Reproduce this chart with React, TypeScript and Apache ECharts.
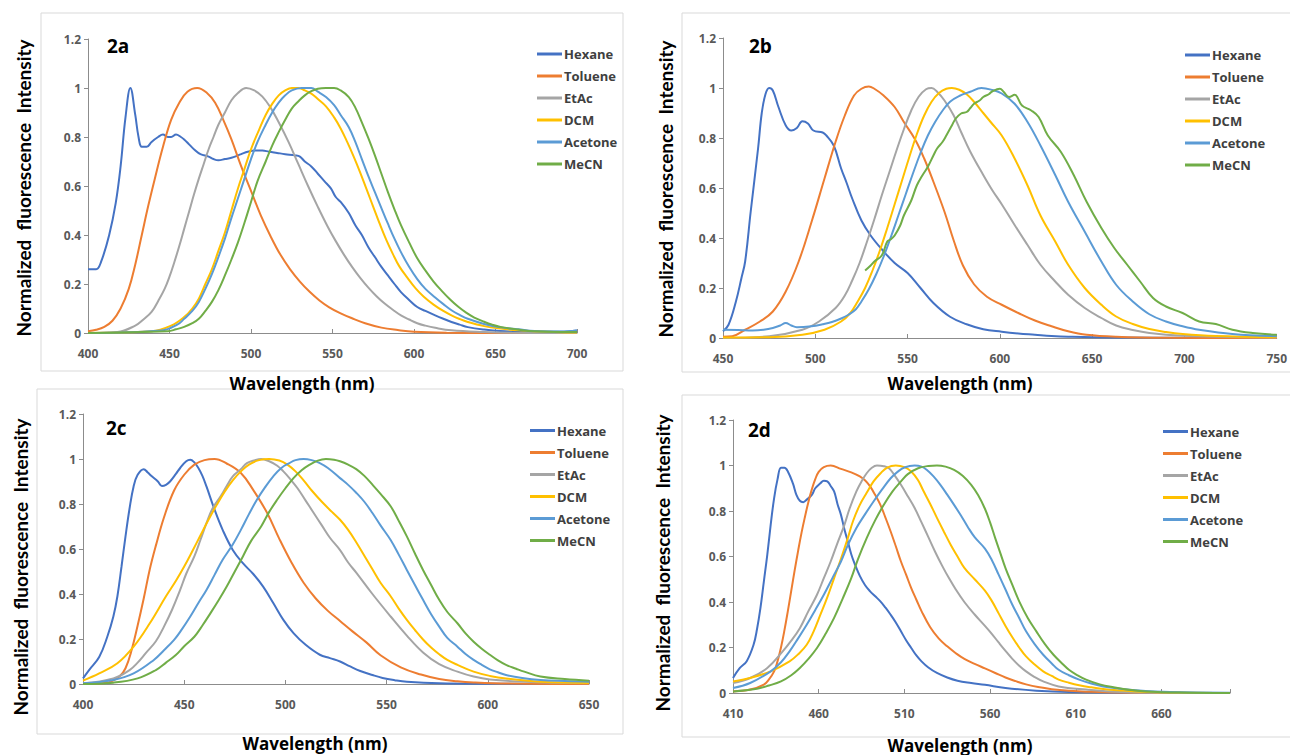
import React, { useEffect, useRef } from "react";
import * as echarts from "echarts";

type Pt = [number, number];

const NAMES = ["Hexane", "Toluene", "EtAc", "DCM", "Acetone", "MeCN"];
const COLORS = ["#4472C4", "#ED7D31", "#A5A5A5", "#FFC000", "#5B9BD5", "#70AD47"];
const Y_TICKS = [0, 0.2, 0.4, 0.6, 0.8, 1, 1.2];

// ---------- Panel 2a ----------
const a_hexane: Pt[] = [[400,0.26],[405,0.26],[408,0.29],[413,0.40],[417,0.53],[420,0.68],[423,0.88],[426,1.0],[429,0.89],[431,0.80],[433,0.76],[436,0.76],[439,0.78],[443,0.80],[446,0.81],[449,0.80],[451,0.80],[454,0.81],[457,0.80],[459,0.79],[462,0.77],[465,0.75],[469,0.73],[474,0.72],[477,0.71],[480,0.705],[484,0.71],[488,0.715],[494,0.73],[498,0.74],[503,0.745],[507,0.745],[511,0.74],[516,0.735],[521,0.73],[527,0.725],[530,0.72],[533,0.70],[537,0.68],[541,0.65],[545,0.62],[549,0.59],[552,0.555],[555,0.535],[560,0.49],[564,0.44],[568,0.40],[572,0.35],[576,0.31],[580,0.27],[584,0.235],[588,0.20],[592,0.167],[597,0.135],[602,0.106],[607,0.09],[613,0.072],[618,0.058],[623,0.045],[628,0.034],[633,0.024],[643,0.014],[653,0.008],[670,0.005],[690,0.005],[700,0.01]];
const a_toluene: Pt[] = [[400,0.007],[405,0.013],[410,0.025],[415,0.05],[420,0.1],[425,0.18],[429,0.28],[433,0.4],[437,0.52],[441,0.63],[446,0.76],[451,0.87],[456,0.94],[461,0.985],[467,1.0],[473,0.98],[478,0.94],[483,0.87],[488,0.79],[494,0.68],[500,0.58],[506,0.48],[512,0.395],[518,0.32],[524,0.26],[530,0.21],[536,0.168],[542,0.133],[548,0.105],[555,0.08],[562,0.06],[570,0.04],[580,0.022],[590,0.012],[600,0.005],[620,0.001],[650,0],[700,0]];
const a_etac: Pt[] = [[400,0],[418,0.004],[429,0.03],[434,0.055],[439,0.086],[443,0.13],[447,0.18],[450,0.23],[453,0.29],[456,0.355],[459,0.425],[462,0.495],[465,0.565],[468,0.63],[471,0.69],[474,0.75],[477,0.8],[480,0.85],[484,0.9],[488,0.95],[492,0.98],[497,1.0],[502,0.99],[507,0.965],[512,0.92],[517,0.86],[523,0.78],[529,0.69],[535,0.6],[541,0.515],[547,0.435],[552,0.375],[557,0.32],[562,0.27],[567,0.225],[572,0.185],[577,0.15],[582,0.12],[587,0.095],[592,0.072],[597,0.055],[602,0.04],[607,0.03],[613,0.021],[623,0.011],[643,0.004],[660,0.001],[700,0]];
const a_dcm: Pt[] = [[400,0],[439,0.007],[451,0.03],[459,0.065],[464,0.1],[468,0.14],[472,0.2],[476,0.26],[480,0.335],[484,0.41],[488,0.5],[492,0.59],[496,0.67],[500,0.75],[505,0.83],[509,0.89],[513,0.935],[517,0.97],[521,0.99],[525,1.0],[529,1.0],[533,0.99],[537,0.977],[541,0.955],[546,0.925],[551,0.88],[555,0.835],[559,0.78],[563,0.72],[567,0.655],[571,0.585],[575,0.515],[579,0.445],[583,0.38],[587,0.323],[591,0.272],[596,0.225],[601,0.182],[606,0.148],[612,0.116],[618,0.09],[623,0.072],[628,0.057],[633,0.045],[643,0.028],[653,0.018],[664,0.011],[674,0.007],[690,0.003],[700,0.002]];
const a_acetone: Pt[] = [[400,0],[445,0.01],[455,0.035],[459,0.058],[464,0.09],[468,0.127],[472,0.18],[476,0.24],[480,0.31],[484,0.385],[488,0.47],[492,0.55],[496,0.63],[500,0.71],[504,0.78],[509,0.85],[513,0.9],[517,0.94],[521,0.97],[525,0.99],[531,1.0],[537,1.0],[541,0.985],[546,0.963],[551,0.93],[555,0.89],[560,0.84],[564,0.78],[568,0.71],[572,0.64],[576,0.575],[580,0.51],[584,0.446],[588,0.385],[592,0.33],[597,0.27],[602,0.22],[607,0.18],[613,0.145],[618,0.118],[623,0.093],[628,0.074],[633,0.058],[643,0.037],[653,0.023],[664,0.015],[674,0.008],[690,0.006],[700,0.01]];
const a_mecn: Pt[] = [[400,0],[449,0.007],[454,0.015],[459,0.025],[464,0.04],[468,0.058],[472,0.09],[476,0.127],[480,0.175],[484,0.235],[488,0.3],[492,0.37],[496,0.45],[500,0.535],[504,0.62],[509,0.7],[513,0.765],[517,0.82],[521,0.87],[525,0.916],[529,0.945],[533,0.97],[537,0.987],[541,0.997],[546,1.0],[551,1.0],[555,0.99],[560,0.963],[564,0.92],[568,0.86],[572,0.795],[576,0.725],[580,0.65],[584,0.575],[588,0.505],[592,0.44],[597,0.37],[602,0.305],[607,0.255],[612,0.21],[617,0.172],[622,0.138],[627,0.108],[632,0.083],[637,0.063],[643,0.046],[648,0.034],[653,0.025],[664,0.014],[674,0.007],[690,0.004],[700,0.004]];

// ---------- Panel 2b ----------
const b_hexane: Pt[] = [[450,0.027],[453,0.053],[457,0.146],[460,0.24],[462,0.306],[465,0.505],[469,0.758],[471,0.9],[473,0.975],[475,1.0],[477,0.99],[480,0.925],[484,0.85],[487,0.83],[490,0.84],[493,0.867],[496,0.858],[499,0.83],[504,0.822],[506,0.81],[510,0.77],[514,0.678],[517,0.62],[520,0.558],[525,0.47],[530,0.41],[536,0.355],[543,0.3],[550,0.26],[557,0.2],[564,0.14],[573,0.085],[582,0.055],[591,0.035],[601,0.025],[610,0.018],[619,0.013],[628,0.008],[637,0.005],[660,0.002],[750,0.001]];
const b_toluene: Pt[] = [[450,0.005],[455,0.007],[462,0.033],[470,0.066],[477,0.106],[484,0.186],[491,0.306],[498,0.465],[505,0.638],[511,0.785],[516,0.89],[521,0.97],[525,0.997],[529,1.006],[532,0.997],[537,0.97],[543,0.924],[548,0.864],[554,0.795],[559,0.718],[564,0.625],[570,0.505],[575,0.39],[580,0.29],[586,0.215],[593,0.165],[601,0.133],[610,0.1],[619,0.07],[628,0.047],[637,0.027],[647,0.013],[663,0.005],[690,0.001],[750,0]];
const b_etac: Pt[] = [[450,0],[475,0.007],[493,0.033],[502,0.066],[511,0.12],[516,0.17],[520,0.23],[524,0.3],[528,0.385],[532,0.475],[536,0.57],[540,0.66],[544,0.75],[548,0.835],[552,0.91],[556,0.965],[560,0.995],[563,1.0],[566,0.985],[570,0.95],[575,0.89],[579,0.824],[584,0.745],[591,0.652],[596,0.59],[601,0.535],[608,0.452],[615,0.372],[622,0.293],[630,0.226],[637,0.173],[646,0.12],[655,0.08],[663,0.05],[672,0.032],[681,0.02],[699,0.009],[726,0.004],[750,0.002]];
const b_dcm: Pt[] = [[450,0.002],[475,0.003],[493,0.013],[505,0.033],[514,0.066],[519,0.1],[523,0.146],[527,0.2],[531,0.27],[535,0.35],[539,0.44],[543,0.535],[547,0.63],[551,0.725],[555,0.815],[559,0.89],[563,0.945],[567,0.98],[571,0.997],[574,1.0],[578,0.993],[582,0.975],[586,0.945],[591,0.9],[595,0.864],[601,0.81],[608,0.718],[615,0.61],[622,0.49],[630,0.386],[637,0.293],[646,0.2],[655,0.133],[663,0.086],[672,0.056],[681,0.036],[690,0.024],[699,0.016],[717,0.008],[750,0.003]];
const b_acetone: Pt[] = [[450,0.033],[458,0.032],[466,0.03],[472,0.033],[477,0.04],[481,0.05],[484,0.06],[487,0.05],[490,0.043],[498,0.047],[504,0.055],[509,0.064],[514,0.078],[518,0.093],[522,0.115],[525,0.146],[529,0.195],[533,0.255],[537,0.325],[541,0.405],[545,0.49],[549,0.575],[553,0.66],[557,0.74],[561,0.81],[565,0.865],[569,0.91],[573,0.945],[578,0.968],[584,0.985],[590,1.0],[596,0.992],[601,0.978],[608,0.937],[615,0.864],[622,0.77],[630,0.652],[637,0.545],[646,0.425],[655,0.306],[663,0.213],[672,0.146],[681,0.095],[690,0.066],[699,0.047],[708,0.033],[726,0.016],[750,0.007]];
const b_mecn: Pt[] = [[527,0.27],[530,0.29],[532,0.306],[536,0.33],[539,0.386],[541,0.395],[543,0.41],[546,0.45],[548,0.49],[552,0.55],[555,0.61],[558,0.65],[561,0.685],[564,0.73],[566,0.758],[569,0.785],[571,0.81],[574,0.85],[576,0.877],[579,0.898],[582,0.904],[584,0.92],[586,0.937],[589,0.95],[591,0.964],[594,0.975],[596,0.987],[600,0.997],[602,0.985],[605,0.964],[608,0.973],[612,0.93],[617,0.91],[621,0.884],[626,0.81],[633,0.745],[640,0.652],[647,0.545],[655,0.44],[662,0.36],[669,0.293],[676,0.226],[683,0.16],[690,0.126],[699,0.1],[708,0.066],[717,0.056],[726,0.033],[737,0.02],[750,0.013]];

// ---------- Panel 2c ----------
const c_hexane: Pt[] = [[400,0.025],[403,0.062],[408,0.12],[412,0.21],[415,0.3],[417,0.39],[419,0.52],[421,0.656],[423,0.78],[425,0.878],[427,0.93],[430,0.955],[432,0.94],[434,0.923],[437,0.9],[439,0.88],[441,0.885],[443,0.9],[446,0.935],[448,0.96],[451,0.99],[453,0.997],[455,0.985],[457,0.96],[459,0.925],[461,0.878],[465,0.775],[469,0.685],[474,0.596],[479,0.537],[484,0.49],[489,0.433],[494,0.36],[499,0.285],[504,0.226],[510,0.174],[517,0.13],[522,0.115],[527,0.1],[532,0.078],[537,0.058],[543,0.04],[548,0.027],[554,0.017],[560,0.01],[576,0.003],[600,0.001],[650,0]];
const c_toluene: Pt[] = [[400,0],[412,0.006],[418,0.033],[421,0.07],[424,0.15],[427,0.26],[430,0.38],[433,0.51],[436,0.615],[440,0.74],[445,0.86],[450,0.93],[455,0.975],[460,0.995],[465,1.0],[471,0.98],[478,0.938],[484,0.864],[491,0.76],[497,0.645],[503,0.54],[509,0.45],[515,0.38],[521,0.325],[527,0.28],[533,0.235],[540,0.185],[547,0.128],[557,0.074],[567,0.042],[576,0.022],[585,0.012],[593,0.007],[610,0.002],[650,0]];
const c_etac: Pt[] = [[400,0.003],[415,0.025],[423,0.062],[427,0.095],[431,0.137],[436,0.19],[440,0.255],[444,0.33],[448,0.418],[451,0.49],[455,0.567],[458,0.64],[461,0.715],[464,0.78],[468,0.834],[471,0.88],[474,0.923],[478,0.955],[481,0.982],[485,0.995],[488,1.0],[492,0.99],[496,0.97],[499,0.945],[502,0.915],[506,0.87],[510,0.815],[514,0.76],[518,0.705],[522,0.65],[527,0.595],[531,0.54],[535,0.495],[543,0.4],[552,0.3],[560,0.215],[568,0.14],[576,0.088],[585,0.055],[593,0.033],[601,0.02],[618,0.01],[650,0.003]];
const c_dcm: Pt[] = [[400,0.015],[408,0.047],[417,0.092],[425,0.166],[433,0.27],[441,0.39],[446,0.46],[450,0.522],[454,0.59],[458,0.66],[462,0.73],[466,0.795],[470,0.855],[474,0.905],[478,0.945],[482,0.975],[487,0.995],[492,1.0],[497,0.993],[501,0.975],[505,0.945],[509,0.905],[513,0.86],[518,0.81],[523,0.765],[527,0.73],[531,0.685],[535,0.63],[539,0.57],[543,0.51],[547,0.45],[552,0.39],[556,0.335],[560,0.285],[564,0.24],[568,0.198],[572,0.162],[576,0.132],[580,0.107],[585,0.085],[593,0.055],[601,0.036],[609,0.024],[626,0.01],[650,0.005]];
const c_acetone: Pt[] = [[400,0.003],[415,0.018],[425,0.047],[435,0.107],[440,0.15],[445,0.196],[449,0.245],[453,0.3],[457,0.36],[461,0.418],[465,0.485],[469,0.552],[474,0.62],[478,0.685],[482,0.755],[486,0.82],[490,0.875],[494,0.923],[498,0.96],[502,0.982],[505,0.995],[509,1.0],[513,0.995],[517,0.982],[521,0.96],[527,0.915],[531,0.885],[535,0.85],[539,0.81],[543,0.76],[547,0.705],[552,0.64],[556,0.575],[560,0.507],[564,0.44],[568,0.374],[572,0.31],[576,0.255],[580,0.205],[585,0.166],[589,0.133],[593,0.107],[597,0.085],[601,0.065],[605,0.052],[609,0.04],[617,0.027],[626,0.018],[638,0.013],[650,0.01]];
const c_mecn: Pt[] = [[400,0],[415,0.006],[427,0.025],[436,0.062],[441,0.095],[446,0.13],[450,0.168],[455,0.21],[459,0.26],[463,0.315],[467,0.372],[471,0.433],[475,0.5],[479,0.567],[483,0.635],[488,0.7],[492,0.765],[496,0.82],[500,0.87],[504,0.915],[508,0.95],[512,0.975],[516,0.993],[520,1.0],[524,0.997],[527,0.99],[531,0.975],[535,0.955],[539,0.925],[543,0.886],[547,0.845],[552,0.79],[556,0.725],[560,0.656],[564,0.58],[568,0.507],[572,0.44],[576,0.374],[580,0.32],[585,0.27],[589,0.225],[593,0.188],[597,0.157],[601,0.13],[605,0.105],[609,0.085],[614,0.068],[618,0.055],[626,0.033],[638,0.022],[650,0.015]];

// ---------- Panel 2d ----------
const d_hexane: Pt[] = [[410,0.066],[414,0.11],[418,0.14],[422,0.212],[424,0.28],[426,0.373],[428,0.49],[430,0.607],[432,0.74],[434,0.857],[436,0.94],[438,0.99],[440,0.99],[442,0.974],[445,0.92],[447,0.871],[449,0.845],[451,0.839],[453,0.85],[456,0.871],[458,0.9],[461,0.922],[463,0.933],[465,0.93],[467,0.91],[469,0.886],[471,0.83],[473,0.783],[475,0.72],[477,0.666],[479,0.61],[481,0.568],[484,0.515],[487,0.475],[490,0.447],[493,0.425],[496,0.403],[499,0.375],[502,0.344],[505,0.31],[508,0.271],[511,0.232],[514,0.198],[517,0.165],[520,0.139],[524,0.112],[529,0.088],[535,0.068],[541,0.054],[549,0.044],[557,0.036],[569,0.022],[587,0.01],[606,0.004],[650,0.001],[700,0]];
const d_toluene: Pt[] = [[410,0.007],[420,0.015],[428,0.037],[431,0.06],[434,0.095],[436,0.14],[438,0.2],[440,0.275],[442,0.36],[444,0.45],[446,0.54],[448,0.625],[450,0.705],[452,0.775],[454,0.84],[456,0.895],[458,0.94],[460,0.972],[463,0.993],[467,1.0],[473,0.985],[479,0.97],[484,0.952],[487,0.935],[490,0.908],[493,0.87],[496,0.827],[499,0.77],[502,0.71],[505,0.645],[508,0.578],[511,0.52],[514,0.461],[517,0.41],[520,0.36],[525,0.29],[530,0.24],[535,0.205],[540,0.175],[545,0.15],[551,0.128],[557,0.108],[563,0.088],[569,0.068],[575,0.052],[581,0.038],[588,0.026],[596,0.017],[606,0.01],[616,0.006],[650,0.001],[700,0]];
const d_etac: Pt[] = [[410,0.044],[420,0.066],[430,0.11],[439,0.183],[444,0.23],[449,0.285],[454,0.36],[459,0.432],[463,0.505],[467,0.578],[471,0.66],[475,0.739],[478,0.81],[482,0.886],[485,0.93],[488,0.966],[491,0.99],[494,1.0],[498,0.997],[501,0.988],[504,0.96],[508,0.915],[512,0.865],[516,0.813],[520,0.75],[524,0.685],[528,0.62],[532,0.56],[536,0.505],[540,0.455],[545,0.4],[551,0.345],[557,0.295],[561,0.26],[565,0.222],[569,0.185],[573,0.15],[577,0.12],[581,0.095],[586,0.07],[591,0.051],[600,0.029],[616,0.015],[636,0.004],[660,0.001],[700,0]];
const d_dcm: Pt[] = [[410,0.051],[420,0.066],[432,0.095],[443,0.139],[448,0.17],[453,0.212],[457,0.27],[461,0.344],[465,0.42],[469,0.505],[473,0.59],[477,0.681],[480,0.755],[484,0.827],[488,0.88],[492,0.93],[496,0.965],[500,0.991],[505,1.0],[510,0.993],[514,0.974],[518,0.935],[521,0.89],[525,0.832],[529,0.77],[533,0.71],[537,0.652],[541,0.6],[545,0.55],[551,0.5],[557,0.45],[561,0.405],[565,0.35],[569,0.295],[573,0.245],[577,0.2],[581,0.161],[586,0.125],[591,0.095],[596,0.075],[600,0.059],[606,0.045],[612,0.034],[619,0.025],[626,0.018],[635,0.012],[645,0.007],[670,0.002],[700,0]];
const d_acetone: Pt[] = [[410,0.022],[420,0.044],[432,0.095],[438,0.135],[443,0.183],[448,0.24],[453,0.3],[458,0.365],[463,0.432],[468,0.505],[473,0.578],[477,0.65],[482,0.725],[487,0.785],[492,0.842],[497,0.895],[502,0.944],[506,0.972],[510,0.991],[516,1.0],[520,0.995],[523,0.981],[527,0.952],[531,0.915],[535,0.872],[539,0.827],[543,0.78],[547,0.73],[551,0.685],[557,0.635],[561,0.585],[565,0.52],[569,0.455],[573,0.388],[577,0.33],[581,0.271],[586,0.215],[591,0.168],[596,0.13],[600,0.102],[606,0.078],[612,0.059],[619,0.042],[626,0.029],[635,0.02],[645,0.012],[665,0.004],[700,0.001]];
const d_mecn: Pt[] = [[410,0.007],[424,0.019],[431,0.033],[438,0.051],[444,0.078],[449,0.11],[454,0.15],[459,0.198],[464,0.26],[469,0.33],[474,0.415],[479,0.505],[483,0.59],[488,0.681],[493,0.76],[498,0.827],[503,0.885],[508,0.93],[512,0.962],[518,0.988],[524,0.998],[529,1.0],[534,0.995],[539,0.981],[544,0.955],[549,0.915],[553,0.87],[557,0.81],[560,0.75],[563,0.681],[566,0.615],[569,0.549],[573,0.475],[577,0.403],[582,0.33],[587,0.271],[592,0.215],[597,0.168],[602,0.13],[606,0.102],[611,0.078],[616,0.059],[624,0.038],[632,0.025],[641,0.014],[651,0.007],[670,0.002],[700,0]];

// x-axis ranges (nm)
const A_X = [400, 700];
const B_X = [450, 750];
const C_X = [400, 650];
const D_X = [410, 700];

const PANELS = [
  { tag: "2a", series: [a_hexane, a_toluene, a_etac, a_dcm, a_acetone, a_mecn], xr: A_X,
    grid: { left: 88, top: 39, width: 489, height: 294 }, legend: { left: 537, top: 47.5 },
    box: [41, 13, 582, 358], xTitle: [302, 383], yTitle: [23, 188], tagPos: [107, 46] },
  { tag: "2b", series: [b_hexane, b_toluene, b_etac, b_dcm, b_acetone, b_mecn], xr: B_X,
    grid: { left: 723, top: 38, width: 560, height: 300 }, legend: { left: 1185, top: 48.5 },
    box: [682, 13, 640, 359], xTitle: [960, 383], yTitle: [665, 189], tagPos: [749, 46] },
  { tag: "2c", series: [c_hexane, c_toluene, c_etac, c_dcm, c_acetone, c_mecn], xr: C_X,
    grid: { left: 83, top: 414, width: 506, height: 270 }, legend: { left: 530, top: 424 },
    box: [37, 389, 586, 345], xTitle: [315, 743], yTitle: [20, 567], tagPos: [106, 428] },
  { tag: "2d", series: [d_hexane, d_toluene, d_etac, d_dcm, d_acetone, d_mecn], xr: D_X,
    grid: { left: 733, top: 420, width: 497, height: 273 }, legend: { left: 1163, top: 425 },
    box: [682, 395, 640, 342], xTitle: [960, 745], yTitle: [662, 563], tagPos: [748, 430] },
];

const AXIS_COLOR = "#8c8c8c";
const LABEL_COLOR = "#595959";

export default function App() {
  const ref = useRef<HTMLDivElement>(null);
  useEffect(() => {
    if (!ref.current) return;
    const chart = echarts.init(ref.current, undefined, { renderer: "svg" });
    const grids: any[] = [];
    const xAxes: any[] = [];
    const yAxes: any[] = [];
    const legends: any[] = [];
    const series: any[] = [];
    const graphics: any[] = [];

    PANELS.forEach((p, i) => {
      grids.push({ ...p.grid, containLabel: false });
      // axis shifted so that ticks start at the first labelled wavelength
      const off = p.xr[0];
      xAxes.push({
        type: "value", gridIndex: i, min: 0, max: p.xr[1] - off, interval: 50,
        axisLine: { show: true, onZero: false, lineStyle: { color: AXIS_COLOR, width: 1 } },
        axisTick: { show: true, inside: true, length: 4, lineStyle: { color: AXIS_COLOR } },
        splitLine: { show: false },
        axisLabel: {
          margin: 14, fontSize: 12, fontWeight: "bold", color: LABEL_COLOR, fontFamily: "Open Sans",
          formatter: (v: number) => (Math.round(v) % 50 === 0 ? String(Math.round(v) + off) : ""),
        },
      });
      yAxes.push({
        type: "value", gridIndex: i, min: Y_TICKS[0], max: Y_TICKS[Y_TICKS.length - 1], interval: 0.2,
        axisLine: { show: true, lineStyle: { color: AXIS_COLOR, width: 1 } },
        axisTick: { show: true, inside: false, length: 4, lineStyle: { color: AXIS_COLOR } },
        splitLine: { show: false },
        axisLabel: { margin: 7, fontSize: 12, fontWeight: "bold", color: LABEL_COLOR, fontFamily: "Open Sans" },
      });
      legends.push({
        data: NAMES, orient: "vertical", left: p.legend.left, top: p.legend.top,
        itemWidth: 25, itemHeight: 3, itemGap: 9, padding: 0, icon: "rect",
        selectedMode: false,
        textStyle: { fontSize: 13, lineHeight: 13, fontWeight: "bold", color: "#404040", fontFamily: "Open Sans", padding: [0, 0, 0, -3] },
      });
      p.series.forEach((pts, k) => {
        series.push({
          type: "line", name: NAMES[k], xAxisIndex: i, yAxisIndex: i,
          data: pts.map(([x, y]) => [x - off, y]),
          showSymbol: false, symbol: "none", smooth: 0.4,
          color: COLORS[k],
          itemStyle: { color: COLORS[k] },
          lineStyle: { color: COLORS[k], width: 2 },
          clip: true,
        });
      });
      graphics.push({
        type: "rect", z: -1, silent: true,
        shape: { x: p.box[0], y: p.box[1], width: p.box[2], height: p.box[3] },
        style: { fill: "none", stroke: "#d9d9d9", lineWidth: 1 },
      });
      graphics.push({
        type: "text", x: p.tagPos[0], y: p.tagPos[1],
        style: { text: p.tag, font: "bold 19px 'Open Sans'", fill: "#000", verticalAlign: "middle" },
      });
      graphics.push({
        type: "text", x: p.xTitle[0], y: p.xTitle[1],
        style: { text: "Wavelength (nm)", font: "bold 17px 'Open Sans'", fill: "#000", align: "center", verticalAlign: "middle" },
      });
      graphics.push({
        type: "text", x: p.yTitle[0], y: p.yTitle[1], rotation: Math.PI / 2,
        style: { text: "Normalized  fluorescence  Intensity", font: "bold 19px Lato", fill: "#000", align: "center", verticalAlign: "middle" },
      });
    });

    chart.setOption({
      animation: false,
      backgroundColor: "#ffffff",
      textStyle: { fontFamily: "Open Sans" },
      grid: grids, xAxis: xAxes, yAxis: yAxes, legend: legends, series,
      graphic: { elements: graphics },
    });
    return () => chart.dispose();
  }, []);
  return (
    <div ref={ref} style={{ position: "fixed", left: 0, top: 0, width: 1290, height: 755, background: "#fff" }} />
  );
}
